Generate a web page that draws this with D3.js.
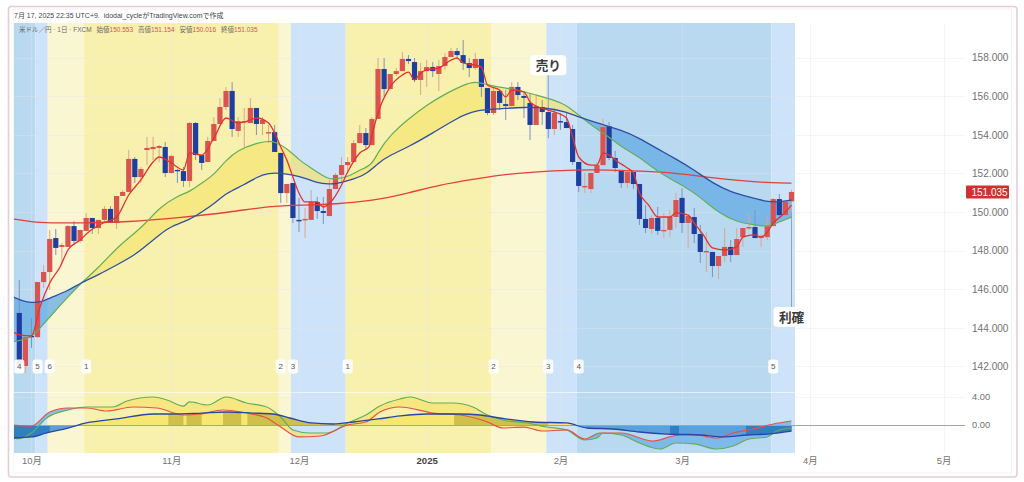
<!DOCTYPE html>
<html lang="ja">
<head>
<meta charset="utf-8">
<style>
html,body{margin:0;padding:0;background:#fff;overflow:hidden}
svg{display:block}
text{font-family:"Liberation Sans","Noto Sans CJK JP",sans-serif}
</style>
<script src="https://cdn.jsdelivr.net/npm/d3@7/dist/d3.min.js"></script>
</head>
<body>
<svg id="c" width="1024" height="482"></svg>
<script>
// ---- candles (USD/JPY daily) ----
const opens=[144.77,142.02,143.58,143.52,146.37,146.89,148.65,148.19,148.19,149.27,
148.50,149.02,149.69,149.17,149.59,150.16,149.43,150.83,151.04,152.75,
151.81,153.21,153.26,153.32,153.37,152.02,152.18,152.12,151.61,154.61,
152.95,152.59,153.68,154.56,155.44,156.27,154.20,154.66,154.61,155.39,
154.56,154.09,154.14,153.06,150.98,151.50,149.59,149.59,149.59,150.52,
150.05,149.79,151.19,151.92,152.43,152.59,153.57,154.09,153.47,154.82,
157.41,156.37,157.15,157.30,157.93,157.77,156.84,157.30,157.51,157.15,
157.56,158.03,158.34,158.13,157.72,157.46,157.93,156.42,155.13,156.27,
155.59,155.49,156.48,156.01,155.65,154.51,155.44,155.18,154.30,154.71,
154.66,154.30,152.59,151.30,151.19,152.02,152.43,154.45,152.80,152.18,
151.50,152.07,151.45,149.64,149.12,149.69,149.02,149.07,149.74,150.73,
149.43,149.74,148.86,147.93,147.93,147.20,147.72,148.19,147.77,148.70,
149.17,149.22,148.65,148.70,149.27,150.67,149.84,150.553];
const closes=[142.13,143.52,143.52,146.37,146.89,148.60,148.14,148.29,149.27,148.50,
149.07,149.69,149.17,149.59,150.16,149.43,150.83,151.04,152.75,151.81,
152.23,153.32,153.37,153.42,152.02,152.90,152.12,151.61,154.61,152.95,
152.54,153.68,154.56,155.44,156.27,154.30,154.71,154.71,155.39,154.56,
154.77,154.14,153.11,150.98,151.45,149.69,149.53,149.64,150.52,150.05,
149.95,151.19,151.92,152.43,152.59,153.57,154.09,153.47,154.82,157.41,
156.37,157.15,157.30,157.93,157.82,156.84,157.30,157.51,157.30,157.56,
158.03,158.34,158.13,157.72,157.46,157.93,156.48,155.13,156.27,155.65,
155.49,156.48,156.06,155.91,154.51,155.49,155.18,154.30,155.13,154.66,
154.35,152.59,151.35,151.35,152.02,152.43,154.40,152.80,152.28,151.50,
152.07,151.45,149.64,149.17,149.69,149.02,149.07,149.74,150.62,149.43,
149.79,148.86,147.93,147.98,147.20,147.72,148.19,147.77,148.60,149.17,
149.22,148.65,148.76,149.27,150.67,149.84,150.52,151.035];
const highs=[146.48,143.58,144.51,146.37,147.25,149.07,149.12,148.39,149.33,149.53,
149.07,149.95,149.69,149.59,150.31,150.31,150.83,151.14,153.21,152.85,
152.33,153.89,153.89,153.47,153.63,152.95,152.23,152.33,154.66,154.66,
152.95,153.89,154.92,155.91,156.48,156.73,154.92,155.39,155.91,155.39,
154.92,154.51,154.51,153.06,151.45,151.50,150.73,150.21,151.14,150.78,
150.78,151.66,152.02,152.85,152.85,153.73,154.51,154.35,154.92,157.98,
157.98,157.15,157.46,158.29,158.13,157.98,157.72,157.87,157.77,157.87,
158.24,158.50,158.50,158.91,157.98,158.24,157.93,156.42,156.48,156.32,
156.32,156.73,156.73,156.22,156.16,156.06,155.80,155.18,155.39,155.13,
155.13,154.51,152.59,152.02,152.02,152.59,154.82,154.66,153.16,152.18,
152.18,152.07,151.45,150.36,149.84,150.26,149.95,150.10,150.98,151.24,
149.79,150.21,149.33,148.96,147.93,147.72,149.17,148.55,149.17,149.17,
149.90,150.10,148.86,149.74,150.73,150.93,150.62,151.154];
const lows=[141.97,141.66,142.96,143.47,146.06,145.96,147.77,147.36,148.19,148.29,
148.39,149.02,148.86,148.86,149.43,149.43,149.12,150.83,151.04,151.50,
151.50,152.43,152.69,152.59,151.81,152.02,151.50,151.30,151.30,152.69,
152.18,152.59,153.68,154.56,155.28,153.89,153.89,153.32,154.61,153.99,
153.99,153.57,153.11,150.47,150.47,149.43,148.96,148.65,149.59,149.64,
149.38,149.79,151.19,151.55,152.07,152.59,153.57,153.21,153.47,154.82,
155.96,156.37,157.04,157.30,157.67,156.73,156.06,156.48,156.99,156.27,
157.36,158.03,157.98,157.36,156.99,157.36,155.96,155.02,155.02,155.28,
154.77,155.49,155.80,154.87,153.73,154.51,154.51,153.83,153.99,154.25,
154.35,152.43,151.04,150.98,150.98,152.02,152.43,152.69,152.07,151.24,
151.24,151.19,149.33,148.91,148.86,148.81,148.65,148.70,149.17,148.91,
148.14,148.39,147.36,146.89,146.63,146.53,147.41,147.41,147.77,148.19,
149.07,148.65,148.19,148.55,149.27,149.79,149.84,150.016];

// ---- price overlays, read at the positions in the *Idx arrays ----
const fastIdx=[-1,0,2,3.4,5,6.7,8,10,11.6,13.8,16,18,20,22,23,25,27,28,30,32,34,36,37.5,39,41,42,43,44,45,46,47,49,50,51.5,53,54,56,57.5,58,59,61,63,64,65,66,67,69,71,72,73,75,76,77,79,80,81,83,84,85,87,88.5,90,91,92,94,95,96,97,98.5,100,101,102,103.5,105,107,108,110,111,112.5,114,116,118,119,121,122,123,124,125.5,126,127];
const fastVal=[143.78,143.63,143.58,145.08,146.32,147.15,148.03,148.55,149.02,149.43,149.74,150.88,151.66,152.59,152.85,152.54,152.18,153.06,152.95,153.83,154.87,154.61,154.71,154.87,154.61,154.09,153.37,152.69,151.81,150.98,150.52,150.52,150.26,150.62,151.40,152.07,153.06,153.37,153.99,155.13,156.48,157.10,157.25,156.84,157.20,157.36,157.46,157.87,157.98,157.72,157.61,157.51,156.58,156.32,155.96,156.32,156.22,155.70,155.49,155.28,155.13,154.87,153.89,152.85,152.43,152.43,153.06,152.95,152.59,152.28,152.02,150.98,150.36,149.74,149.74,149.95,149.84,149.43,148.81,148.14,148.03,148.19,148.70,148.81,148.70,148.96,149.43,149.84,150.00,150.36];
const greenIdx=[-1,2,3.4,5,8,10,13,16,19,21,23,26,28,30,32,34,36,39,41,42,44,46,48,50,51,52,54,56,58,59,61,64,67,70,73,75,77,80,82,85,88,90,92,94,97,99,102,105,109,112,115,118,121,123,125,127];
const greenVal=[143.27,143.47,143.99,144.56,145.60,146.27,147.10,148.14,148.91,149.48,150.21,150.83,151.04,151.50,151.92,152.69,153.21,153.57,153.68,153.63,153.32,152.69,152.28,151.86,151.71,151.71,151.81,152.18,152.43,153.11,153.99,154.82,155.54,156.11,156.58,156.79,156.58,156.42,156.32,156.06,155.80,155.54,155.02,154.51,153.89,153.37,152.85,152.07,151.40,150.78,149.95,149.48,149.33,149.22,149.48,149.74];
const blueIdx=[-1,0.5,2,3.8,5,8,10,13,16,19,21,23,25,28,30,32,34,37,39,41,43,45,47,49,51,52,54,57,59,61,64,68,72,75,79,83,87,90,92,95,99,102,105,108,111,114,117,120,123,125,127];
const blueVal=[145.60,145.39,145.29,145.34,145.55,145.91,146.32,146.74,147.25,147.77,148.29,148.81,149.27,149.59,150.00,150.41,150.98,151.40,151.81,152.02,152.02,151.92,151.76,151.50,151.45,151.45,151.61,151.92,152.54,152.95,153.37,154.09,154.87,155.28,155.34,155.44,155.39,155.18,154.92,154.61,154.25,153.83,153.26,152.75,152.18,151.50,151.04,150.78,150.52,150.52,150.62];
const longIdx=[-1,2,5,10,18,26,35,41,47,52,58,64,69,75,80,87,91,97,102,108,113,119,124,127];
const longVal=[149.64,149.48,149.43,149.43,149.48,149.69,150.00,150.31,150.36,150.41,150.57,150.98,151.40,151.71,151.97,152.12,152.18,152.18,152.12,152.02,151.81,151.61,151.50,151.50];

// ---- lower panel ----
const oscRedIdx=[-1,2,5,8,11,14.4,18.7,22.6,27,29.7,33.5,37.4,40.7,43,46,49.5,54,57,59.3,62.6,68,72.5,77,79.5,83,86,90,93,95.5,99,104.2,107.5,110.3,114.7,117.4,120.7,124,127];
const oscRedVal=[0,-0.14,1.86,2.43,2.43,2.00,2.57,2.43,1.43,1.57,2.14,1.71,1.00,-0.29,-1.71,-1.57,0,0.43,1.86,2.57,1.71,1.43,0.43,-0.43,-0.29,-0.86,-0.71,-2.00,-1.14,-1.14,-2.29,-1.57,-1.29,-1.86,-1.14,-0.57,0.14,0.57];
const oscGreenIdx=[-1,0,2,4.5,8,11,15.4,17.7,22,24.3,27,28,31,34,37.4,40.7,43,45,47.8,50.6,54,57,59.3,62.6,64.3,68,71.3,74.6,77,79.5,83.5,86.8,90,93,95,96,99,102,105.4,108,111,114.7,117.4,120,123,124.6,127];
const oscGreenVal=[-1.86,-1.95,-1.14,1.00,2.14,2.57,2.57,3.43,4.00,3.57,2.71,3.29,2.86,4.00,3.14,2.57,1.14,-0.71,-1.14,-1.14,0.29,1.43,2.71,3.71,4.00,3.14,3.14,2.57,1.43,0.71,0.29,-0.29,-0.71,-2.14,-1.86,-1.14,-1.43,-2.57,-3.43,-2.57,-2.71,-3.43,-3.00,-2.00,-1.71,-0.86,-0.43];
const oscBlueIdx=[-1,2,4.5,8,11,16,22,25,30,34,38.4,41.7,44.5,48,51.6,55,59,62.6,67,72.5,75.8,79,84.5,90,93.4,97.6,102,106.5,112,115.7,119.7,123,127];
const oscBlueVal=[-1.86,-1.71,-1.14,-0.43,0.29,0.86,1.57,1.57,1.71,1.86,1.71,1.57,1.00,0.29,0.14,0.43,0.86,1.29,1.57,1.57,1.43,1.00,0.43,0.29,-0.43,-0.57,-1.00,-1.29,-1.43,-1.71,-1.43,-1.29,-0.86];
const oscDarkStart=[25,28,34,38,72];
const oscDarkEnd=[27,30,36.5,54,87];
const oscDeepStart=[-1,120,107.5];
const oscDeepEnd=[5,127.5,108.5];

// ---- cycle zones ----
const zoneStarts=[0,3,5,11,43,45,54,78,87,92,124];
const zoneKinds=["deep","light","pale","gold","pale","light","gold","pale","light","deep","light"];
const zoneNames=["4","5","6","1","2","3","1","2","3","4","5"];

// ---- axes ----
const priceTicks=[142,144,146,148,150,152,154,156,158];
const oscTicks=[0,4];
const monthIdx=[2,25,46,67,89,109,130,152];
const monthNames=["10月","11月","12月","2025","2月","3月","4月","5月"];

// ---- texts ----
const titleText="7月 17, 2025 22:35 UTC+9.\u00a0\u00a0idodai_cycleがTradingView.comで作成";
const symbolText="米ドル／円 · 1日 · FXCM";
const ohlcLabels=["始値","高値","安値","終値"];
const ohlcValues=["150.553","151.154","150.016","151.035"];
const lastPrice=151.035;

const svg=d3.select("#c");
const W=965,L=14,T=23,B=453;
const x=d3.scaleLinear().domain([0,127]).range([19.3,791.5]);
const y=d3.scaleLinear().domain([142,158]).range([366.4,57.6]);
const yo=d3.scaleLinear().domain([0,4]).range([425,397]);
const ZONE={deep:"#b9d9f1",light:"#cde3f9",pale:"#fbf6d2",gold:"#f8f1ae"};
const RED="#d9534f",NAVY="#1f3fa0";

// frame
svg.append("rect").attr("x",8.5).attr("y",6.5).attr("width",1008.5).attr("height",470.5).attr("rx",3)
  .attr("fill","#fff").attr("stroke","#e5ccd6").attr("stroke-width",1.6);
svg.append("rect").attr("x",13.5).attr("y",9).attr("width",998).attr("height",464)
  .attr("fill","none").attr("stroke","#f3f3f3");

const defs=svg.append("defs");
defs.append("clipPath").attr("id","plot").append("rect").attr("x",L).attr("y",T).attr("width",795-L).attr("height",B-T);

// zones
const zoneX0=(i)=>i===0?L:x(zoneStarts[i])-2;
const zoneX1=(i)=>i===zoneStarts.length-1?x(127)+3.5:x(zoneStarts[i+1])-2;
svg.append("g").selectAll("rect").data(zoneStarts).join("rect")
  .attr("x",(d,i)=>zoneX0(i)).attr("width",(d,i)=>zoneX1(i)-zoneX0(i))
  .attr("y",T).attr("height",B-T).attr("fill",(d,i)=>ZONE[zoneKinds[i]]);

// grid
const grid=svg.append("g").attr("stroke","#e3e6ea").attr("stroke-opacity",.38).attr("stroke-width",1);
grid.selectAll("line.h").data(priceTicks).join("line").attr("class","h")
  .attr("x1",L).attr("x2",W).attr("y1",d=>Math.round(y(d))+.5).attr("y2",d=>Math.round(y(d))+.5);
grid.selectAll("line.v").data(monthIdx).join("line").attr("class","v")
  .attr("y1",T).attr("y2",B).attr("x1",d=>Math.round(x(d))+.5).attr("x2",d=>Math.round(x(d))+.5);
grid.append("line").attr("x1",L).attr("x2",W).attr("y1",yo(4)+.5).attr("y2",yo(4)+.5);
svg.append("line").attr("x1",L).attr("x2",1012).attr("y1",392.5).attr("y2",392.5).attr("stroke","#fff").attr("stroke-opacity",.6);

const pairs=(a,b)=>a.map((v,i)=>[v,b[i]]);
const sharp=d3.curveMonotoneX, smooth=d3.curveBasis;

// difference fill between two series
function diffFill(id,A,B2,sc,cv,upColor,upOp,downColor,downOp,top,bottom){
  const areaTo=(data,edge)=>d3.area().curve(cv).x(d=>x(d[0])).y0(edge).y1(d=>sc(d[1]))(data);
  defs.append("clipPath").attr("id",id+"a").append("path").attr("d",areaTo(A,bottom));
  defs.append("clipPath").attr("id",id+"b").append("path").attr("d",areaTo(A,top));
  const g=svg.append("g").attr("clip-path","url(#plot)");
  g.append("g").attr("clip-path",`url(#${id}a)`).append("path").attr("d",areaTo(B2,top)).attr("fill",upColor).attr("fill-opacity",upOp);
  g.append("g").attr("clip-path",`url(#${id}b)`).append("path").attr("d",areaTo(B2,bottom)).attr("fill",downColor).attr("fill-opacity",downOp);
}
const greenPts=pairs(greenIdx,greenVal),bluePts=pairs(blueIdx,blueVal);
diffFill("cloud",greenPts,bluePts,y,smooth,"#f5e36c",.65,"#5ea8e4",.72,T,392);

// lower panel fills
const oscBluePts=pairs(oscBlueIdx,oscBlueVal),oscRedPts=pairs(oscRedIdx,oscRedVal),oscGreenPts=pairs(oscGreenIdx,oscGreenVal);
diffFill("oscf",oscGreenPts,oscRedPts,yo,sharp,"#f5e36c",.7,"#6aaee6",.75,393,B);
const osc=svg.append("g").attr("clip-path","url(#plot)");
const zeroArea=d3.area().curve(sharp).x(d=>x(d[0])).y0(yo(0)).y1(d=>yo(d[1]));
defs.append("clipPath").attr("id","oscUp").append("rect").attr("x",L).attr("y",393).attr("width",795-L).attr("height",yo(0)-393);
defs.append("clipPath").attr("id","oscDn").append("rect").attr("x",L).attr("y",yo(0)).attr("width",795-L).attr("height",B-yo(0));
osc.append("g").attr("clip-path","url(#oscUp)").append("path").attr("d",zeroArea(oscBluePts)).attr("fill","#f5e76f");
osc.append("g").attr("clip-path","url(#oscDn)").append("path").attr("d",zeroArea(oscBluePts)).attr("fill","#5d9fd8");
oscDarkStart.forEach((s,i)=>{
  const id="dk"+i;
  defs.append("clipPath").attr("id",id).append("rect").attr("x",x(s)-3).attr("width",x(oscDarkEnd[i])-x(s)+3).attr("y",393).attr("height",yo(0)-393);
  osc.append("g").attr("clip-path",`url(#${id})`).append("path").attr("d",zeroArea(oscBluePts)).attr("fill","#cfc04a");
});
oscDeepStart.forEach((s,i)=>{
  const id="dp"+i;
  defs.append("clipPath").attr("id",id).append("rect").attr("x",x(s)-3).attr("width",x(oscDeepEnd[i])-x(s)+3).attr("y",yo(0)).attr("height",B-yo(0));
  osc.append("g").attr("clip-path",`url(#${id})`).append("path").attr("d",zeroArea(oscBluePts)).attr("fill","#2f7fc1");
});

// zero line
svg.append("line").attr("x1",L).attr("x2",W).attr("y1",yo(0)+.5).attr("y2",yo(0)+.5).attr("stroke","#a3a3a3").attr("stroke-width",1);

// pointer lines of the callouts
const calls=[{t:"売り",i:87,label:157.6,tip:155.18},{t:"利確",i:127,label:144.56,tip:150.36}];
svg.append("g").selectAll("line").data(calls).join("line")
  .attr("x1",d=>x(d.i)).attr("x2",d=>x(d.i)).attr("y1",d=>y(d.label)).attr("y2",d=>y(d.tip))
  .attr("stroke","#97a2af").attr("stroke-width",1);

// candles
const candleData=opens.map((o,i)=>({i,o,c:closes[i],h:highs[i],l:lows[i],up:closes[i]>=o}));
const cg=svg.append("g").attr("clip-path","url(#plot)");
cg.selectAll("line").data(candleData).join("line")
  .attr("x1",d=>x(d.i)).attr("x2",d=>x(d.i)).attr("y1",d=>y(d.h)).attr("y2",d=>y(d.l))
  .attr("stroke",d=>d.up?"#e0a48c":"#7f93b8").attr("stroke-width",1);
cg.selectAll("rect").data(candleData).join("rect")
  .attr("x",d=>x(d.i)-2.6).attr("width",5.2)
  .attr("y",d=>y(Math.max(d.o,d.c)))
  .attr("height",d=>Math.max(1.4,Math.abs(y(d.o)-y(d.c))))
  .attr("fill",d=>d.up?RED:NAVY);

// lines
const lineGen=(sc,cv)=>d3.line().curve(cv).x(d=>x(d[0])).y(d=>sc(d[1]));
const lg=svg.append("g").attr("clip-path","url(#plot)").attr("fill","none").attr("stroke-linejoin","round");
[[pairs(longIdx,longVal),y,smooth,"#e2403a",1.3],[greenPts,y,smooth,"#63ad5c",1.2],[bluePts,y,smooth,"#2f4fa6",1.3],[pairs(fastIdx,fastVal),y,sharp,"#e5322e",1.3],
 [oscGreenPts,yo,sharp,"#63ad5c",1.2],[oscRedPts,yo,sharp,"#e8504a",1.2],[oscBluePts,yo,sharp,"#2846a5",1.3]]
 .forEach(([pts,sc,cv,col,w])=>lg.append("path").attr("d",lineGen(sc,cv)(pts)).attr("stroke",col).attr("stroke-width",w));

// cycle labels
const zl=svg.append("g").selectAll("g").data(zoneStarts).join("g")
  .attr("transform",d=>`translate(${x(d)},${y(142)})`);
zl.append("rect").attr("x",-5).attr("y",-7).attr("width",10).attr("height",14).attr("rx",2.5).attr("fill","#fff").attr("fill-opacity",.92);
zl.append("text").attr("text-anchor","middle").attr("y",3).attr("font-size",8).attr("fill","#555").text((d,i)=>zoneNames[i]);

// callouts
const cl=svg.append("g").selectAll("g").data(calls).join("g")
  .attr("transform",d=>`translate(${x(d.i)},${y(d.label)})`);
cl.append("rect").attr("x",-18).attr("y",-10).attr("width",36).attr("height",20).attr("rx",3.5).attr("fill","#fff");
cl.append("text").attr("text-anchor","middle").attr("y",4.6).attr("font-size",12.6).attr("font-weight",700).attr("fill","#3a3a3a").text(d=>d.t);

// axes
const tickStyle=(g,size,color)=>{g.select(".domain").remove();g.selectAll(".tick line").remove();
  g.selectAll(".tick text").attr("font-size",size).attr("fill",color).style("font-family",'"Liberation Sans","Noto Sans CJK JP",sans-serif');};
svg.append("g").attr("transform","translate(966,0)")
  .call(d3.axisRight(y).tickValues(priceTicks).tickFormat(d3.format(".3f")).tickSize(0).tickPadding(6))
  .call(g=>tickStyle(g,10.1,"#727272"));
svg.append("g").attr("transform","translate(966,0)")
  .call(d3.axisRight(yo).tickValues(oscTicks).tickFormat(d3.format(".2f")).tickSize(0).tickPadding(6))
  .call(g=>tickStyle(g,9.3,"#727272"));
svg.append("g").attr("transform","translate(0,455)")
  .call(d3.axisBottom(x).tickValues(monthIdx).tickFormat((d,i)=>monthNames[i]).tickSize(0).tickPadding(2))
  .call(g=>tickStyle(g,9.4,"#727272"))
  .call(g=>g.selectAll(".tick text").filter(d=>d===67).attr("font-weight",700).attr("fill","#444").attr("font-size",9.6));

// last price tag
const tag=svg.append("g").attr("transform",`translate(966,${y(lastPrice)})`);
tag.append("rect").attr("y",-6.5).attr("width",43).attr("height",13).attr("rx",1).attr("fill","#d32f2f");
tag.append("text").attr("x",5.5).attr("y",3.5).attr("font-size",10).attr("fill","#fff").text(d3.format(".3f")(lastPrice));

// header
svg.append("text").attr("x",14).attr("y",18).attr("font-size",7).attr("fill","#444").text(titleText);
const lg2=svg.append("text").attr("x",19).attr("y",32).attr("font-size",6.5).attr("fill","#6a6a6a");
lg2.append("tspan").text(symbolText);
ohlcLabels.forEach((n,i)=>{
  lg2.append("tspan").attr("dx",i===0?5:5).attr("fill","#6a6a6a").text(n);
  lg2.append("tspan").attr("fill","#d9534f").text(ohlcValues[i]);
});
</script>
</body>
</html>
